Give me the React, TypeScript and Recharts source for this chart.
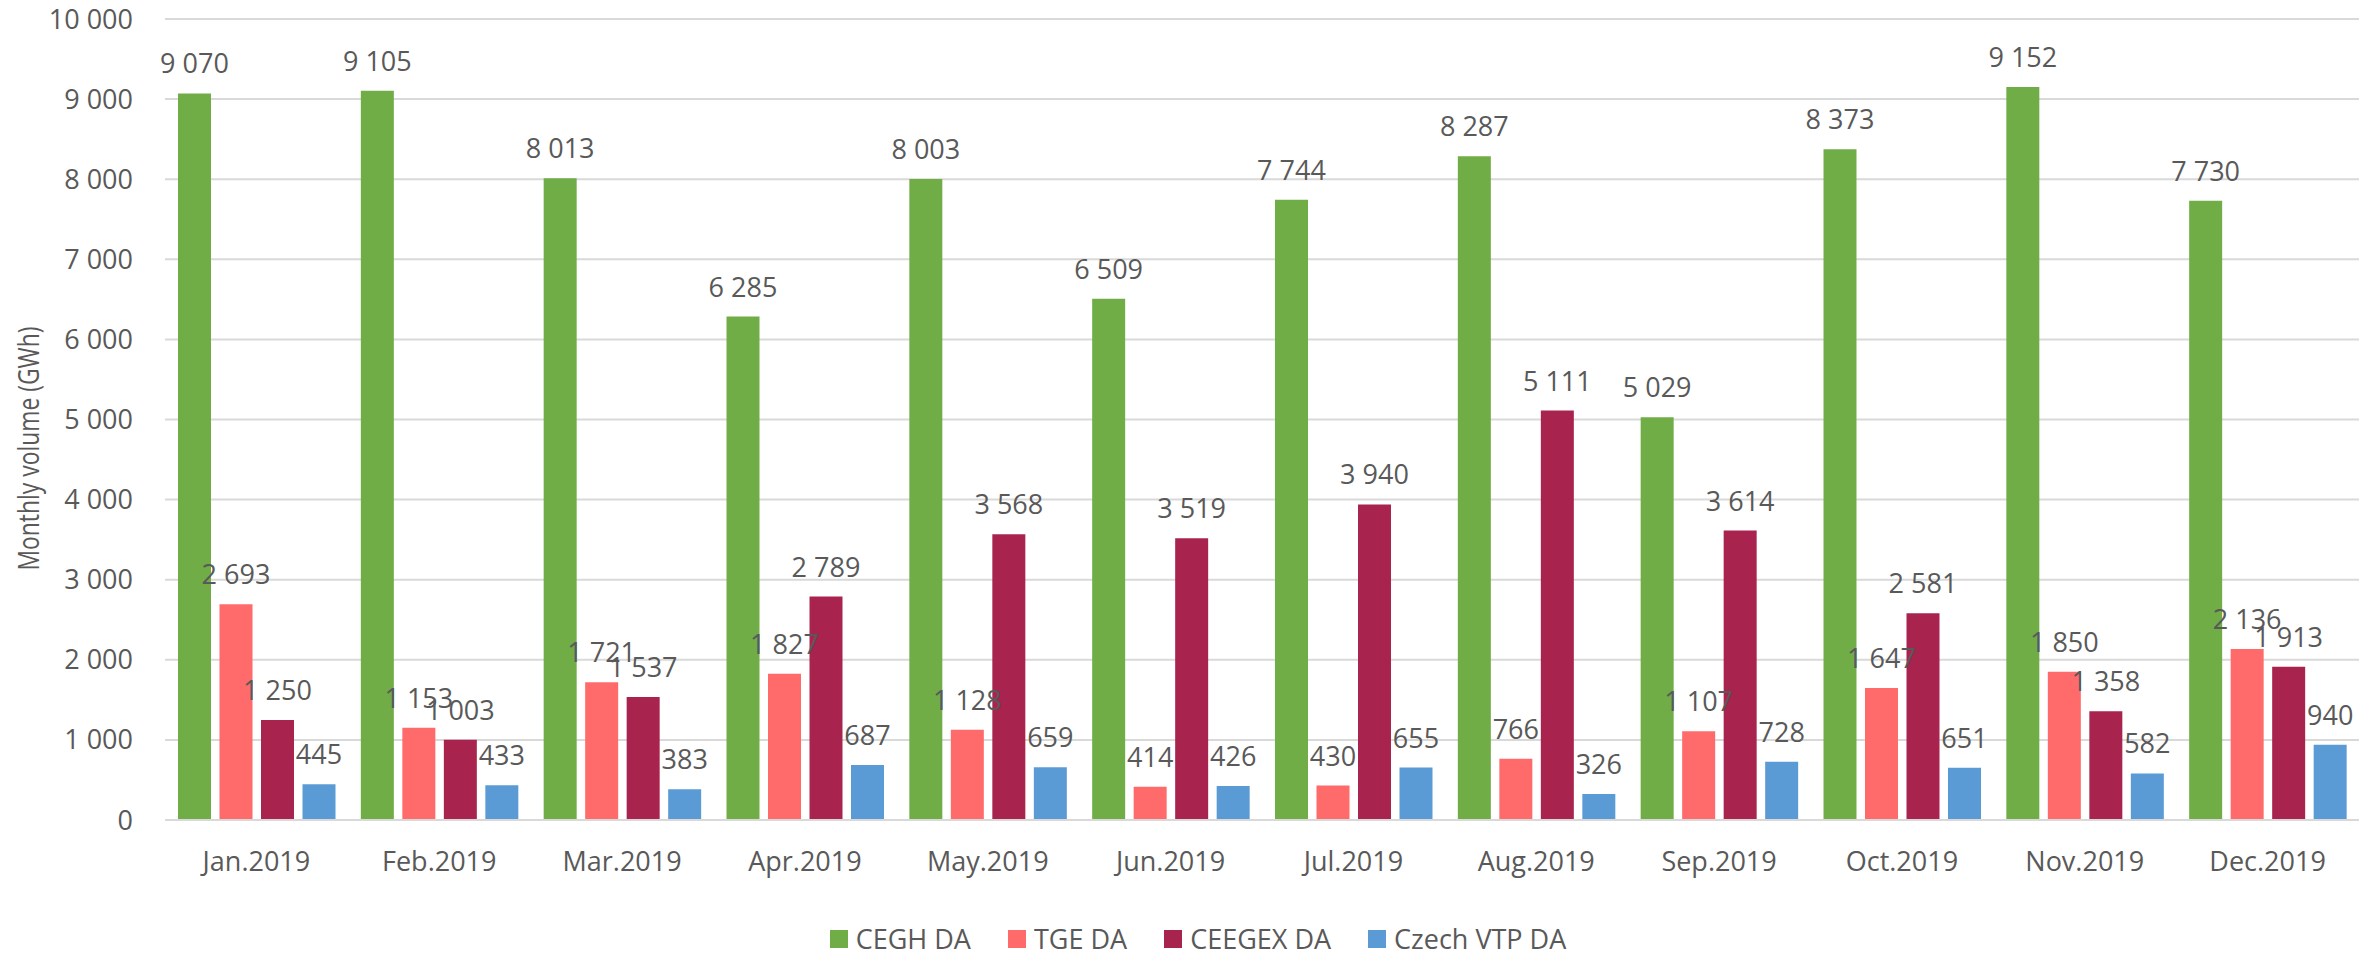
import React from 'react';
import { BarChart, Bar, XAxis, YAxis, CartesianGrid, LabelList, Legend } from 'recharts';

const months = ['Jan.2019', 'Feb.2019', 'Mar.2019', 'Apr.2019', 'May.2019', 'Jun.2019', 'Jul.2019', 'Aug.2019', 'Sep.2019', 'Oct.2019', 'Nov.2019', 'Dec.2019'];
const ceghDA = [9070, 9105, 8013, 6285, 8003, 6509, 7744, 8287, 5029, 8373, 9152, 7730];
const tgeDA = [2693, 1153, 1721, 1827, 1128, 414, 430, 766, 1107, 1647, 1850, 2136];
const ceegexDA = [1250, 1003, 1537, 2789, 3568, 3519, 3940, 5111, 3614, 2581, 1358, 1913];
const czechVtpDA = [445, 433, 383, 687, 659, 426, 655, 326, 728, 651, 582, 940];
const yTicks = [0, 1000, 2000, 3000, 4000, 5000, 6000, 7000, 8000, 9000, 10000];

const seriesNames = ['CEGH DA', 'TGE DA', 'CEEGEX DA', 'Czech VTP DA'];
const seriesKeys = ['cegh', 'tge', 'ceegex', 'czech'];
const seriesColors = ['#70AD47', '#FF6B6B', '#A9234F', '#5B9BD5'];

const data = months.map((m, i) => ({
  month: m,
  cegh: ceghDA[i],
  tge: tgeDA[i],
  ceegex: ceegexDA[i],
  czech: czechVtpDA[i],
}));

const TEXT = '#595959';
const FONT = '"Open Sans", sans-serif';

// thousands separated by a non-breaking space so labels do not wrap
const fmt = (v: any) => String(Number(v)).replace(/\B(?=(\d{3})+(?!\d))/g, '\u00A0');

const YLabel = (props: any) => {
  const vb = props.viewBox || { x: 0, y: 19, width: 165, height: 801 };
  const cx = vb.x + 27;
  const cy = vb.y + vb.height / 2 + 29;
  return (
    <text
      x={cx}
      y={cy}
      transform={`rotate(-90 ${cx} ${cy})`}
      textAnchor="middle"
      dominantBaseline="central"
      fontSize={29}
      fontFamily={FONT}
      fill={TEXT}
      textLength={244}
      lengthAdjust="spacingAndGlyphs"
    >
      Monthly volume (GWh)
    </text>
  );
};

const LegendContent = () => (
  <div
    style={{
      height: 40,
      width: 2379,
      display: 'flex',
      alignItems: 'center',
      justifyContent: 'center',
      paddingLeft: 17,
      boxSizing: 'border-box',
      fontFamily: FONT,
      fontSize: 27,
      color: TEXT,
      whiteSpace: 'nowrap',
    }}
  >
    {seriesNames.map((name, i) => (
      <div key={name} style={{ display: 'flex', alignItems: 'center', marginRight: i < seriesNames.length - 1 ? 37 : 0 }}>
        <div style={{ width: 18, height: 18, background: seriesColors[i], marginRight: 8 }} />
        <span style={{ lineHeight: '40px' }}>{name}</span>
      </div>
    ))}
  </div>
);

export default function App() {
  return (
    <div style={{ position: 'absolute', left: 0, top: 0, width: 2379, height: 954, background: '#fff' }}>
      <BarChart
        width={2379}
        height={954}
        data={data}
        margin={{ top: 19, right: 20, left: 0, bottom: 0 }}
        barSize={33}
        barGap={8.5}
        style={{ fontFamily: FONT }}
      >
        <CartesianGrid vertical={false} stroke="#D9D9D9" strokeWidth={2} />
        <XAxis
          dataKey="month"
          height={94}
          tickLine={false}
          axisLine={{ stroke: '#D9D9D9', strokeWidth: 2 }}
          tickSize={6}
          tickMargin={26}
          tick={{ fontSize: 27, fill: TEXT, fontFamily: FONT }}
          interval={0}
        />
        <YAxis
          width={165}
          domain={[0, 10000]}
          ticks={yTicks}
          tickFormatter={(v: any) => String(Number(v)).replace(/\B(?=(\d{3})+(?!\d))/g, ' ')}
          tickLine={false}
          axisLine={false}
          tickSize={6}
          tickMargin={26}
          tick={{ fontSize: 27, fill: TEXT, fontFamily: FONT }}
          label={YLabel}
          interval={0}
        />
        <Legend
          verticalAlign="bottom"
          content={LegendContent}
          wrapperStyle={{ left: 0, bottom: -5, width: 2379, height: 40 }}
        />
        {seriesKeys.map((k, i) => (
          <Bar key={k} dataKey={k} name={seriesNames[i]} fill={seriesColors[i]} isAnimationActive={false}>
            <LabelList
              dataKey={k}
              position="top"
              offset={20}
              formatter={fmt}
              style={{ fontSize: 27, fill: TEXT, fontFamily: FONT }}
            />
          </Bar>
        ))}
      </BarChart>
    </div>
  );
}
